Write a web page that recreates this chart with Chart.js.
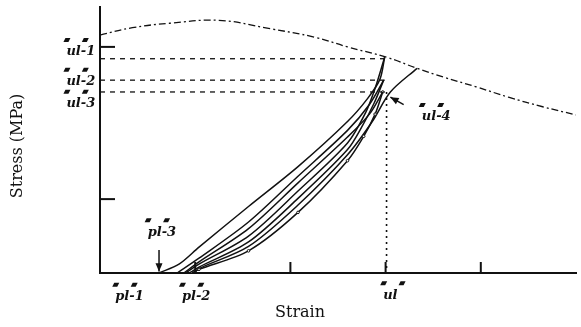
<!DOCTYPE html>
<html>
<head>
<meta charset="utf-8">
<script src="https://cdn.jsdelivr.net/npm/chart.js@4.4.0/dist/chart.umd.min.js"></script>
<style>
  html, body { margin: 0; padding: 0; background: #fff; }
  canvas { display: block; }
</style>
</head>
<body>
<canvas id="chart" width="581" height="327"></canvas>
<script>
// --- Data (strain on x, stress on y, arbitrary units) ---
const envelope = [[0, 3.22], [0.34, 3.32], [0.73, 3.38], [1.25, 3.42], [1.77, 3.31], [2.26, 3.19],
  [2.6, 3.06], [3.01, 2.92], [3.33, 2.77], [3.61, 2.65], [3.95, 2.52], [4.29, 2.38], [4.65, 2.25], [5, 2.14]];

const reload1 = [[0.62, 0], [0.83, 0.12], [1.04, 0.35], [1.56, 0.9], [2.08, 1.44], [2.6, 2.05], [2.81, 2.36], [2.94, 2.62], [2.99, 2.92]];
const unload1 = [[2.99, 2.92], [2.89, 2.5], [2.79, 2.17], [2.6, 1.76], [2.08, 1.11], [1.56, 0.5], [1.04, 0.12], [0.9, 0]];
const reload2 = [[0.81, 0], [1.04, 0.2], [1.56, 0.69], [2.08, 1.31], [2.6, 1.93], [2.83, 2.28], [2.98, 2.61]];
const unload2 = [[2.98, 2.61], [2.88, 2.3], [2.76, 2.0], [2.6, 1.67], [2.08, 1.01], [1.56, 0.42], [1.04, 0.08], [0.94, 0]];
const reload3 = [[0.88, 0], [1.04, 0.15], [1.56, 0.6], [2.08, 1.22], [2.6, 1.84], [2.83, 2.15], [2.97, 2.45]];
const unload3 = [[2.97, 2.45], [2.89, 2.15], [2.77, 1.85], [2.6, 1.52], [2.08, 0.82], [1.56, 0.3], [1.04, 0.05], [0.96, 0]];
const reloadFinal = [[0.99, 0], [1.04, 0.06], [1.56, 0.36], [2.08, 0.92], [2.6, 1.6], [2.86, 2.05], [3.05, 2.45], [3.33, 2.77]];

const ulStrain = 3.01;
const ulStress = [2.9, 2.61, 2.45]; // ul-1, ul-2, ul-3
const xTicks = [1, 2, 3, 4];
const yTicks = [1, 3.06];

// labels and where they sit (data units)
const labelText = ["ul-1", "ul-2", "ul-3", "ul-4", "pl-1", "pl-2", "pl-3", "ul"];
const labelAt = [[-0.05, 2.99], [-0.05, 2.59], [-0.05, 2.29], [3.38, 2.11],
  [0.31, -0.32], [1.01, -0.32], [0.65, 0.55], [3.05, -0.3]];
const labelAlign = ["right", "right", "right", "left", "center", "center", "center", "center"];
const arrowPl3 = [[0.62, 0.31], [0.62, 0.02]];
const arrowUl4 = [[3.19, 2.28], [3.05, 2.38]];

const toXY = (pts) => pts.map((p) => ({ x: p[0], y: p[1] }));

function curve(pts, extra) {
  return Object.assign({
    data: toXY(pts),
    borderColor: "#111",
    borderWidth: 1.5,
    pointRadius: 0,
    tension: 0.3,
    fill: false,
  }, extra || {});
}

const datasets = [
  curve(envelope, { borderDash: [7, 3, 2, 3], borderWidth: 1.3, tension: 0.4 }),
  curve(reload1), curve(unload1),
  curve(reload2), curve(unload2),
  curve(reload3), curve(unload3, { pointRadius: 1.3, pointBackgroundColor: "#fff", pointBorderColor: "#111", pointBorderWidth: 1 }),
  curve(reloadFinal),
];
ulStress.forEach((s) => {
  datasets.push(curve([[0, s], [ulStrain - 0.02, s]], { borderDash: [5, 5], borderWidth: 1.3, tension: 0 }));
});
datasets.push(curve([[ulStrain, ulStress[2]], [ulStrain, 0]], { borderDash: [2, 4], borderWidth: 1.6, tension: 0 }));

// --- Extras: inward ticks, arrows, labels, axis titles ---
function drawArrow(ctx, x1, y1, x2, y2) {
  const a = Math.atan2(y2 - y1, x2 - x1);
  ctx.beginPath();
  ctx.moveTo(x1, y1);
  ctx.lineTo(x2, y2);
  ctx.stroke();
  ctx.beginPath();
  ctx.moveTo(x2, y2);
  ctx.lineTo(x2 - 9 * Math.cos(a - 0.4), y2 - 9 * Math.sin(a - 0.4));
  ctx.lineTo(x2 - 9 * Math.cos(a + 0.4), y2 - 9 * Math.sin(a + 0.4));
  ctx.closePath();
  ctx.fill();
}

function drawMark(ctx, x, y) {
  ctx.beginPath();
  ctx.moveTo(x + 2, y);
  ctx.lineTo(x + 7, y);
  ctx.lineTo(x + 5, y + 4);
  ctx.lineTo(x, y + 4);
  ctx.closePath();
  ctx.fill();
}

const extras = {
  id: "extras",
  afterDraw(chart) {
    const ctx = chart.ctx;
    const xs = chart.scales.x;
    const ys = chart.scales.y;
    const px = (v) => xs.getPixelForValue(v);
    const py = (v) => ys.getPixelForValue(v);
    ctx.save();
    ctx.strokeStyle = "#111";
    ctx.fillStyle = "#111";
    ctx.lineWidth = 2;
    xTicks.forEach((v) => {
      ctx.beginPath();
      ctx.moveTo(px(v), py(0));
      ctx.lineTo(px(v), py(0) - 11);
      ctx.stroke();
    });
    yTicks.forEach((v) => {
      ctx.beginPath();
      ctx.moveTo(px(0), py(v));
      ctx.lineTo(px(0) + 15, py(v));
      ctx.stroke();
    });

    ctx.lineWidth = 1.5;
    [arrowPl3, arrowUl4].forEach((a) => drawArrow(ctx, px(a[0][0]), py(a[0][1]), px(a[1][0]), py(a[1][1])));

    ctx.font = "italic bold 13px 'DejaVu Serif'";
    ctx.textBaseline = "middle";
    labelText.forEach((t, i) => {
      const w = ctx.measureText(t).width;
      let left = px(labelAt[i][0]);
      if (labelAlign[i] === "right") left -= w;
      if (labelAlign[i] === "center") left -= w / 2;
      const y = py(labelAt[i][1]);
      ctx.textAlign = "left";
      ctx.fillText(t, left, y);
      const stem = ctx.measureText("ul").width;
      drawMark(ctx, left - 3, y - 14);
      drawMark(ctx, left + stem + 1, y - 14);
    });

    ctx.font = "16px 'DejaVu Serif'";
    ctx.textAlign = "center";
    ctx.fillText("Strain", 300, 313);
    ctx.translate(18, 146);
    ctx.rotate(-Math.PI / 2);
    ctx.fillText("Stress (MPa)", 0, 0);
    ctx.restore();
  },
};

new Chart(document.getElementById("chart"), {
  type: "line",
  data: { datasets: datasets },
  options: {
    responsive: false,
    animation: false,
    devicePixelRatio: 1,
    layout: { padding: { left: 92, top: 7, right: 0, bottom: 46 } },
    plugins: { legend: { display: false }, tooltip: { enabled: false } },
    scales: {
      x: {
        type: "linear",
        min: 0,
        max: 5,
        ticks: { display: false },
        grid: { display: false },
        border: { display: true, color: "#111", width: 2 },
      },
      y: {
        type: "linear",
        min: 0,
        max: 3.6,
        ticks: { display: false },
        grid: { display: false },
        border: { display: true, color: "#111", width: 2 },
      },
    },
  },
  plugins: [extras],
});
</script>
</body>
</html>
